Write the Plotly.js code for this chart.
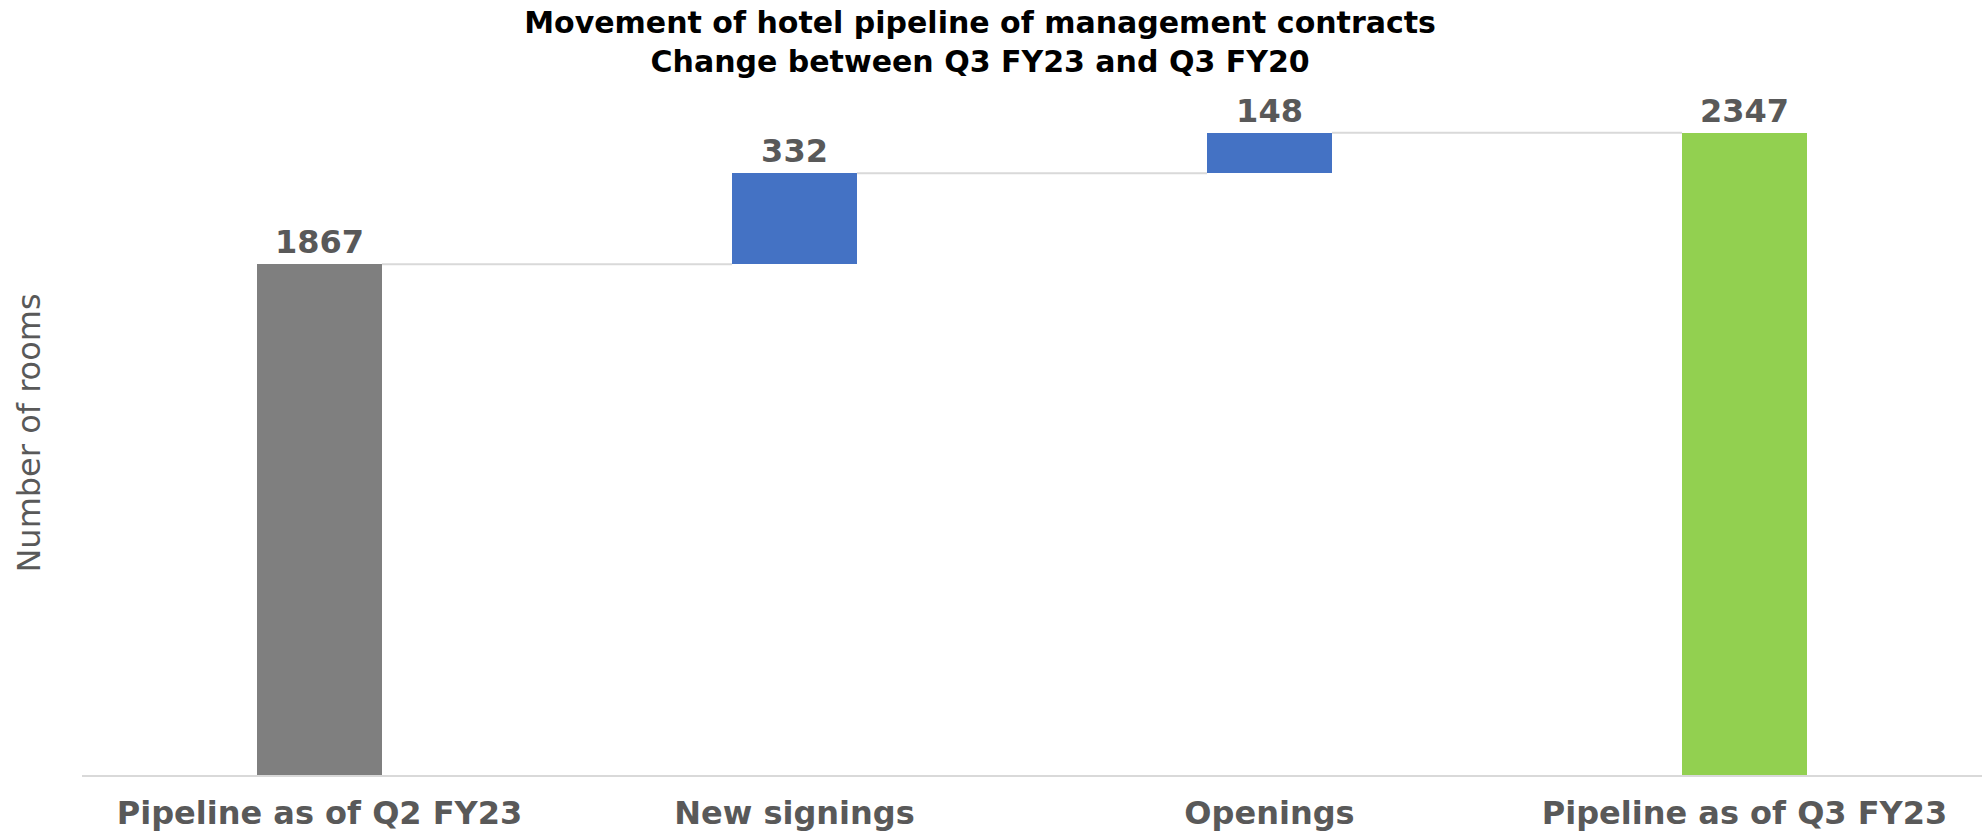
<!DOCTYPE html>
<html>
<head>
<meta charset="utf-8">
<script src="https://cdn.plot.ly/plotly-3.0.1.min.js"></script>
<style>
  html, body { margin: 0; padding: 0; background: #ffffff; }
  #chart { width: 1982px; height: 835px; }
</style>
</head>
<body>
<div id="chart"></div>
<script>
// ---- Data ----
const categories = ["Pipeline as of Q2 FY23", "New signings", "Openings", "Pipeline as of Q3 FY23"];
const values = [1867, 332, 148, 2347];
const measures = ["absolute", "relative", "relative", "total"];
const barColors = ["#7f7f7f", "#4472c4", "#4472c4", "#92d050"];

// ---- Build waterfall geometry from data ----
const barWidth = 0.263;
const xIdx = categories.map((c, i) => i);
const bases = [];
const heights = [];
const levels = [];
let running = 0;
values.forEach((v, i) => {
  if (measures[i] === "absolute") {
    bases.push(0); heights.push(v); running = v;
  } else if (measures[i] === "relative") {
    bases.push(running); heights.push(v); running += v;
  } else {
    bases.push(0); heights.push(v); running = v;
  }
  levels.push(running);
});

const connX = [], connY = [];
for (let i = 0; i < values.length - 1; i++) {
  connX.push(xIdx[i] + barWidth / 2, xIdx[i + 1] - barWidth / 2, null);
  connY.push(levels[i], levels[i], null);
}

const bars = {
  type: "bar",
  x: xIdx,
  y: heights,
  base: bases,
  width: barWidth,
  marker: { color: barColors, line: { width: 0 } },
  text: values.map(v => String(v)),
  textposition: "outside",
  constraintext: "none",
  cliponaxis: false,
  textfont: { family: "DejaVu Sans", size: 32, color: "#595959", weight: 700 },
  hoverinfo: "skip",
  showlegend: false
};

const connectors = {
  type: "scatter",
  mode: "lines",
  x: connX,
  y: connY,
  line: { color: "#d9d9d9", width: 2 },
  hoverinfo: "skip",
  showlegend: false,
  cliponaxis: false
};

const layout = {
  width: 1982,
  height: 835,
  margin: { l: 82, r: 0, t: 91, b: 60 },
  paper_bgcolor: "#ffffff",
  plot_bgcolor: "#ffffff",
  title: {
    text: "Movement of hotel pipeline of management contracts<br>Change between Q3 FY23 and Q3 FY20",
    font: { family: "DejaVu Sans", size: 30, color: "#000000", weight: 700 },
    xref: "container", x: 0.4945, xanchor: "center",
    yref: "container", y: 0.96, yanchor: "top"
  },
  xaxis: {
    range: [-0.5, 3.5],
    tickvals: xIdx,
    ticktext: categories,
    showgrid: false,
    zeroline: false,
    showline: true,
    linecolor: "#d9d9d9",
    linewidth: 2,
    ticks: "",
    ticklabelstandoff: 9,
    tickfont: { family: "DejaVu Sans", size: 32, color: "#595959", weight: 700 },
    fixedrange: true
  },
  yaxis: {
    range: [0, 2500],
    showgrid: false,
    zeroline: false,
    showline: false,
    showticklabels: false,
    ticks: "",
    title: {
      text: "Number of rooms",
      font: { family: "DejaVu Sans", size: 32, color: "#595959" },
      standoff: 30
    },
    fixedrange: true
  },
  bargap: 0
};

Plotly.newPlot("chart", [bars, connectors], layout, { displayModeBar: false, staticPlot: true });
</script>
</body>
</html>
